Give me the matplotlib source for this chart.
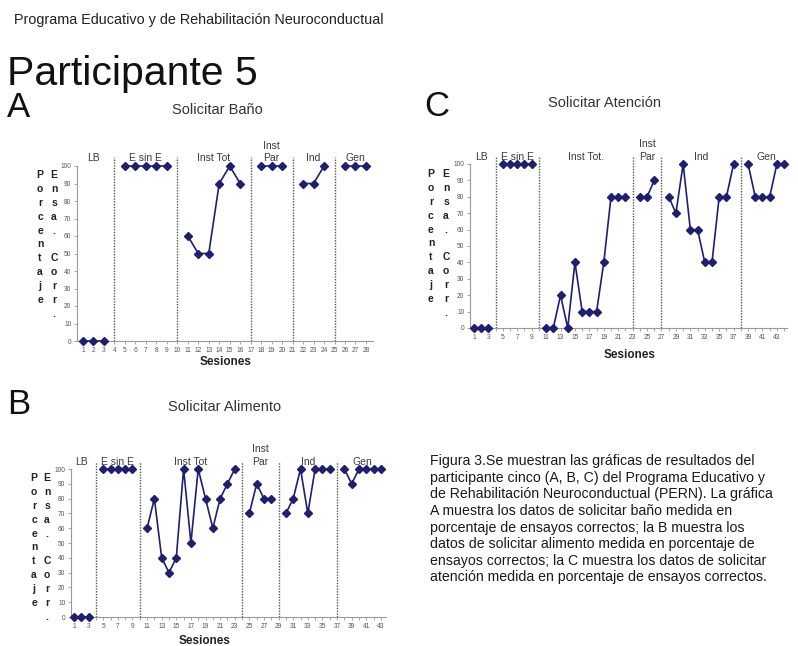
import numpy as np
import matplotlib
matplotlib.use("Agg")
import matplotlib.pyplot as plt

plt.rcParams['font.family'] = ['Liberation Sans', 'DejaVu Sans']

# ---------------- data ----------------
# None marks a phase-change session (dotted line)
a_values = [0, 0, 0, None, 100, 100, 100, 100, 100, None,
            60, 50, 50, 90, 100, 90, None,
            100, 100, 100, None, 90, 90, 100, None, 100, 100, 100]
b_values = [0, 0, 0, None, 100, 100, 100, 100, 100, None,
            60, 80, 40, 30, 40, 100, 50, 100, 80, 60, 80, 90, 100, None,
            70, 90, 80, 80, None,
            70, 80, 100, 70, 100, 100, 100, None,
            100, 90, 100, 100, 100, 100]
c_values = [0, 0, 0, None, 100, 100, 100, 100, 100, None,
            0, 0, 20, 0, 40, 10, 10, 10, 40, 80, 80, 80, None,
            80, 80, 90, None,
            80, 70, 100, 60, 60, 40, 40, 80, 80, 100, None,
            100, 80, 80, 80, 100, 100]

a_phases = ["LB", "E sin E", "Inst Tot", "Inst\nPar", "Ind", "Gen"]
b_phases = ["LB", "E sin E", "Inst Tot", "Inst\nPar", "Ind", "Gen"]
c_phases = ["LB", "E sin E", "Inst Tot.", "Inst\nPar", "Ind", "Gen"]

a_title = "Solicitar Baño"
b_title = "Solicitar Alimento"
c_title = "Solicitar Atención"

y_ticks = [0, 10, 20, 30, 40, 50, 60, 70, 80, 90, 100]

caption = ("Figura 3.Se muestran las gráficas de resultados del\n"
           "participante cinco (A, B, C) del Programa Educativo y\n"
           "de Rehabilitación Neuroconductual (PERN). La gráfica\n"
           "A muestra los datos de solicitar baño medida en\n"
           "porcentaje de ensayos correctos; la B muestra los\n"
           "datos de solicitar alimento medida en porcentaje de\n"
           "ensayos correctos; la C muestra los datos de solicitar\n"
           "atención medida en porcentaje de ensayos correctos.")

# ---------------- figure ----------------
W, H = 798, 646
fig = plt.figure(figsize=(W / 100, H / 100), dpi=100)

LINE_C = '#1f1f72'
TXT_C = '#3a3a3a'


def fx(px):
    return px / W


def fy(py):
    return 1 - py / H


def panel(rect_px, values, phases, xlim, label_step):
    left, right, y0, y100 = rect_px
    top_data = 110
    height_px = (y0 - y100) * top_data / 100
    ax = fig.add_axes([fx(left), fy(y0), (right - left) / W, height_px / H])
    n = len(values)
    sessions = np.arange(1, n + 1)
    vals = np.array([np.nan if v is None else v for v in values], dtype=float)
    ax.plot(sessions, vals, '-', color=LINE_C, lw=1.2, marker='D', ms=4,
            mfc=LINE_C, mec=LINE_C, clip_on=False, zorder=3)
    # phase lines
    breaks = [i + 1 for i, v in enumerate(values) if v is None]
    ax.vlines(breaks, 0, 105, colors='#555555', linestyles=(0, (1, 1)),
              lw=1.0, clip_on=False)
    # phase labels
    bounds = [0] + breaks + [n + 1]
    for k, lab in enumerate(phases):
        cx = (bounds[k] + bounds[k + 1]) / 2
        ax.text(cx, 101.5, lab, ha='center', va='bottom', fontsize=7.5,
                color=TXT_C, clip_on=False, linespacing=1.3)
    ax.set_xlim(*xlim)
    ax.set_ylim(0, top_data)
    for s in ['top', 'right']:
        ax.spines[s].set_visible(False)
    ax.spines['left'].set_bounds(0, 100)
    ax.spines['left'].set_color('#999999')
    ax.spines['bottom'].set_color('#999999')
    ax.spines['left'].set_linewidth(0.8)
    ax.spines['bottom'].set_linewidth(0.8)
    ax.set_yticks(y_ticks)
    ax.set_yticklabels([str(t) for t in y_ticks])
    lab_ticks = list(range(1, n + 1, label_step))
    ax.set_xticks(lab_ticks)
    ax.set_xticklabels([str(t) for t in lab_ticks])
    ax.set_xticks(list(range(1, n + 1)), minor=True)
    ax.tick_params(axis='both', labelsize=4.8, colors='#999999',
                   labelcolor='#555555', length=2, width=0.6, pad=2)
    ax.tick_params(axis='x', which='minor', length=2, width=0.6, colors='#999999')
    ax.patch.set_visible(False)
    return ax


# Panel A
panel((77, 373, 341, 166), a_values, a_phases, (0.43, 28.67), 1)
# Panel C
panel((470, 787, 328, 164), c_values, c_phases, (0.45, 44.4), 2)
# Panel B
panel((71, 386, 617, 469), b_values, b_phases, (0.59, 43.7), 2)

# vertical letter y-labels


def vlabel(x1, x2, ytop, dy):
    for i, ch in enumerate("Porcentaje"):
        fig.text(fx(x1), fy(ytop + i * dy), ch, ha='center', va='center',
                 fontsize=7.5, fontweight='bold', color='#222222')
    for i, ch in enumerate("Ensa. Corr."):
        fig.text(fx(x2), fy(ytop + i * dy), ch, ha='center', va='center',
                 fontsize=7.5, fontweight='bold', color='#222222')


vlabel(40, 54, 175, 13.9)
vlabel(431, 446, 174, 13.9)
vlabel(34, 47, 478, 13.9)

# Sesiones labels
for (x, y) in [(226, 362), (630, 355), (205, 641)]:
    fig.text(fx(x), fy(y), "Sesiones", ha='center', va='center', fontsize=8.5,
             fontweight='bold', color='#222222')

# Titles
fig.text(fx(14), fy(20), "Programa Educativo y de Rehabilitación Neuroconductual",
         ha='left', va='center', fontsize=10.4, color='#222222')
fig.text(fx(7), fy(85), "Participante 5", ha='left', va='baseline',
         fontsize=29.5, color='#111111')
fig.text(fx(7), fy(117), "A", ha='left', va='baseline', fontsize=25, color='#111111')
fig.text(fx(424), fy(116), "C", ha='left', va='baseline', fontsize=25, color='#111111')
fig.text(fx(7), fy(414), "B", ha='left', va='baseline', fontsize=25, color='#111111')

fig.text(fx(217), fy(110), a_title, ha='center', va='center', fontsize=10.5,
         color='#333333')
fig.text(fx(605), fy(103), c_title, ha='center', va='center', fontsize=10.5,
         color='#333333')
fig.text(fx(225), fy(407), b_title, ha='center', va='center', fontsize=10.5,
         color='#333333')

fig.text(fx(430), fy(454), caption, ha='left', va='top', fontsize=10.2,
         color='#1a1a1a', linespacing=1.24)

fig.savefig("out.png", dpi=100)
